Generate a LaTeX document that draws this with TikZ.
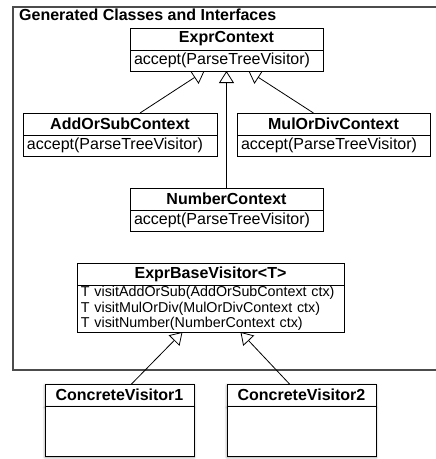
\documentclass[tikz,border=0pt]{standalone}
\usepackage{fontspec}
\setmainfont{Liberation Sans}
\usetikzlibrary{positioning,arrows.meta,shadows.blur}
\newcommand{\headfont}{\fontsize{16}{18}\selectfont\bfseries}
\newcommand{\methfont}{\fontsize{16}{18}\selectfont}
\newcommand{\visitfont}{\fontsize{14.3}{15.5}\selectfont}
\tikzset{%
  classhead/.style = {draw, fill=white, outer sep=0pt, inner sep=0pt,%
                      line width=0.9pt, minimum width=#1,%
                      minimum height=22pt, font=\headfont},%
  classbody/.style = {draw, fill=white, outer sep=0pt, inner xsep=4pt,%
                      inner ysep=0pt, line width=0.9pt, text width=#1,%
                      align=left, minimum height=21pt, font=\methfont},%
  concrete/.style  = {blur shadow={shadow xshift=0pt, shadow yshift=-1.5pt,%
                      shadow blur radius=2.5pt}},%
  inherit/.style   = {line width=0.8pt,%
                      -{Triangle[open, length=12pt, width=15pt]}},%
  pkgframe/.style  = {line width=1.2pt, black!70}%
}

\begin{document}
\begin{tikzpicture}[x=1pt,y=-1pt]
	\useasboundingbox (0,0) rectangle (436,459);
	% package frame
	\draw[pkgframe] (436,7) -- (13,7) -- (13,370) -- (436,370);
	\node[anchor=base west, inner sep=0pt, font=\headfont] (pkgtitle) at (19,20)
		{Generated Classes and Interfaces};
	% context classes
	\node[classhead=193pt, anchor=north west] (expr) at (130,28) {ExprContext};
	\node[classbody=185pt, below=0pt of expr] (exprbody) {accept(ParseTreeVisitor)};
	\node[classhead=194pt, anchor=north west] (addsub) at (23,113) {AddOrSubContext};
	\node[classbody=186pt, below=0pt of addsub] (addsubbody) {accept(ParseTreeVisitor)};
	\node[classhead=193pt, anchor=north west] (muldiv) at (237,113) {MulOrDivContext};
	\node[classbody=185pt, below=0pt of muldiv] (muldivbody) {accept(ParseTreeVisitor)};
	\node[classhead=193pt, anchor=north west] (number) at (130,188) {NumberContext};
	\node[classbody=185pt, below=0pt of number] (numberbody) {accept(ParseTreeVisitor)};
	% visitor
	\node[classhead=267pt, anchor=north west] (visitor) at (77,263) {ExprBaseVisitor<T>};
	\node[classbody=259pt, minimum height=47pt, font=\visitfont, below=0pt of visitor] (visitorbody)
		{T visitAddOrSub(AddOrSubContext ctx)\\
		 T visitMulOrDiv(MulOrDivContext ctx)\\
		 T visitNumber(NumberContext ctx)};
	% concrete visitors
	\node[classhead=149pt, concrete, anchor=north west] (cvone) at (45,384) {ConcreteVisitor1};
	\node[classbody=141pt, minimum height=50pt, concrete, below=0pt of cvone] (cvonebody) {};
	\node[classhead=149pt, concrete, anchor=north west] (cvtwo) at (227,384) {ConcreteVisitor2};
	\node[classbody=141pt, minimum height=50pt, concrete, below=0pt of cvtwo] (cvtwobody) {};
	% inheritance
	\draw[inherit] ([xshift=20pt]addsub.north) -- ([xshift=-22pt]exprbody.south);
	\draw[inherit] ([xshift=-20pt]muldiv.north) -- ([xshift=22pt]exprbody.south);
	\draw[inherit] (number.north) -- (exprbody.south);
	\draw[inherit] ([xshift=12pt]cvone.north) -- ([xshift=-28pt]visitorbody.south);
	\draw[inherit] ([xshift=-12pt]cvtwo.north) -- ([xshift=30pt]visitorbody.south);
\end{tikzpicture}
\end{document}
